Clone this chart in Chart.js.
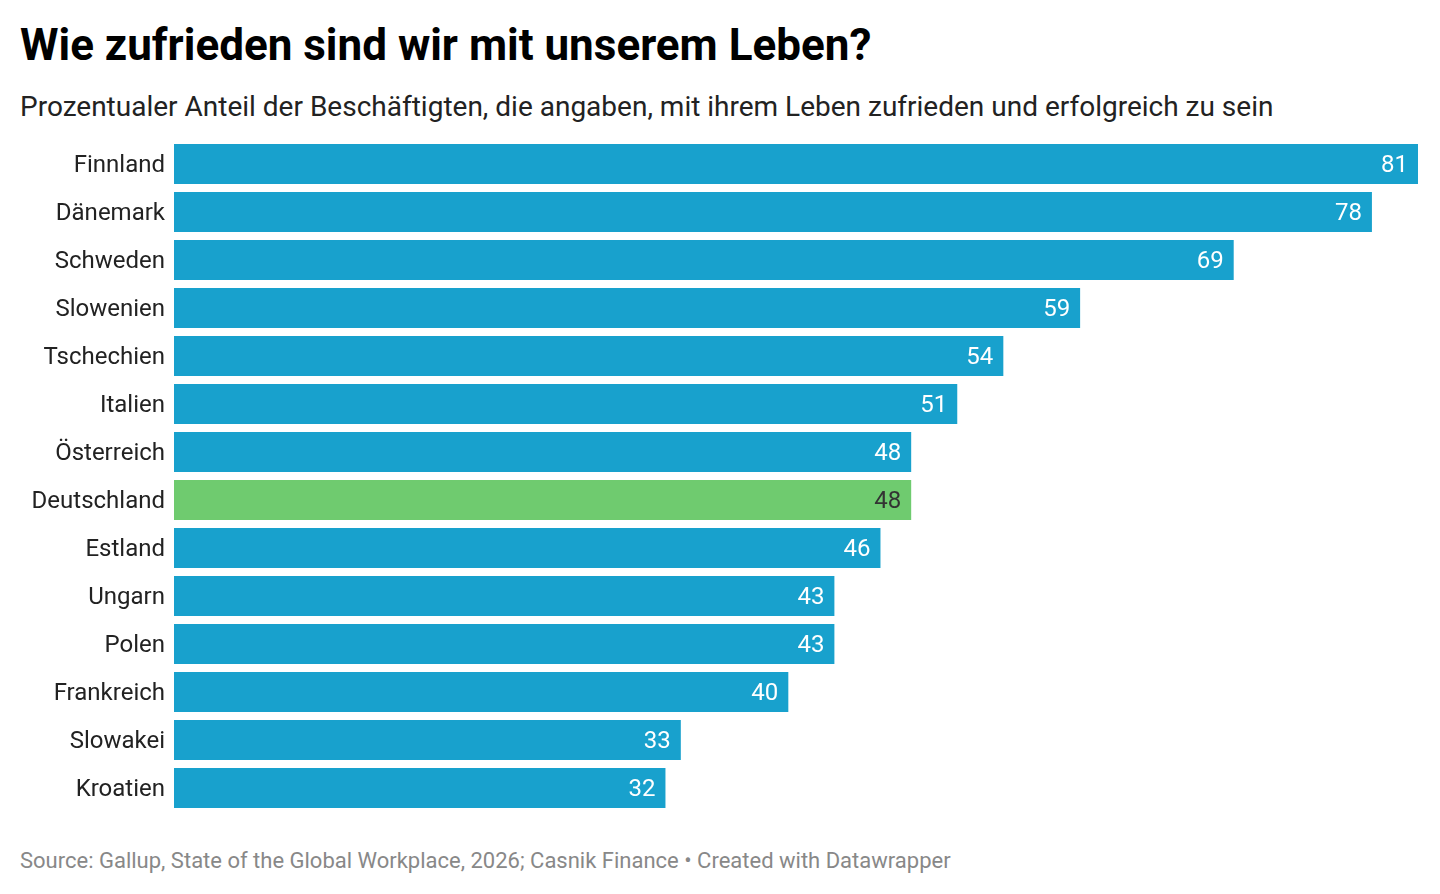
<!DOCTYPE html>
<html>
<head>
<meta charset="utf-8">
<script src="https://cdn.jsdelivr.net/npm/chart.js@4"></script>
<style>
  body { margin: 0; background: #fff; font-family: Roboto, sans-serif; }
  #wrap { position: relative; width: 1440px; height: 894px; }
  h1 { position: absolute; left: 20px; top: 19px; margin: 0; font-size: 44px; font-weight: 700; color: #000; line-height: 52px; }
  .sub { position: absolute; left: 20px; top: 89px; font-size: 28px; color: #222; line-height: 36px; }
  .src { position: absolute; left: 20px; top: 847px; font-size: 22px; color: #888; line-height: 28px; }
  #box { position: absolute; left: 0; top: 140px; width: 1440px; height: 672px; }
</style>
</head>
<body>
<div id="wrap">
  <h1>Wie zufrieden sind wir mit unserem Leben?</h1>
  <div class="sub">Prozentualer Anteil der Beschäftigten, die angaben, mit ihrem Leben zufrieden und erfolgreich zu sein</div>
  <div id="box"><canvas id="chart"></canvas></div>
  <div class="src">Source: Gallup, State of the Global Workplace, 2026; Casnik Finance • Created with Datawrapper</div>
</div>
<script>
const countries = ['Finnland', 'Dänemark', 'Schweden', 'Slowenien', 'Tschechien', 'Italien', 'Österreich',
    'Deutschland', 'Estland', 'Ungarn', 'Polen', 'Frankreich', 'Slowakei', 'Kroatien'];
const values = [81, 78, 69, 59, 54, 51, 48, 48, 46, 43, 43, 40, 33, 32];
const highlight = 'Deutschland';

const blue = '#18a1cd';
const green = '#6fcb6f';

// value labels drawn inside the bar end
const valueLabels = {
    id: 'valueLabels',
    afterDatasetsDraw(chart) {
        const c = chart.ctx;
        const meta = chart.getDatasetMeta(0);
        c.save();
        c.font = '24px Roboto';
        c.textAlign = 'right';
        c.textBaseline = 'middle';
        meta.data.forEach((bar, i) => {
            c.fillStyle = countries[i] === highlight ? '#333' : '#fff';
            c.fillText(values[i], bar.x - 10, bar.y + 2);
        });
        c.restore();
    }
};

const ctx = document.getElementById('chart').getContext('2d');
new Chart(ctx, {
    type: 'bar',
    data: {
        labels: countries,
        datasets: [{
            data: values,
            backgroundColor: countries.map(c => c === highlight ? green : blue),
            categoryPercentage: 1,
            barPercentage: 40 / 48,
            borderWidth: 0
        }]
    },
    options: {
        indexAxis: 'y',
        responsive: true,
        maintainAspectRatio: false,
        animation: false,
        layout: { padding: { left: 0, right: 22, top: 0, bottom: 0 } },
        scales: {
            x: { display: false, min: 0, max: 81 },
            y: {
                grid: { display: false, drawTicks: false },
                border: { display: false },
                ticks: {
                    color: '#222',
                    font: { family: 'Roboto', size: 24 },
                    padding: 9,
                    labelOffset: 2
                },
                afterFit(scale) {
                    scale.width = 174;
                    scale.paddingTop = 0;
                    scale.paddingBottom = 0;
                }
            }
        },
        plugins: {
            legend: { display: false },
            tooltip: { enabled: false }
        }
    },
    plugins: [valueLabels]
});
</script>
</body>
</html>
